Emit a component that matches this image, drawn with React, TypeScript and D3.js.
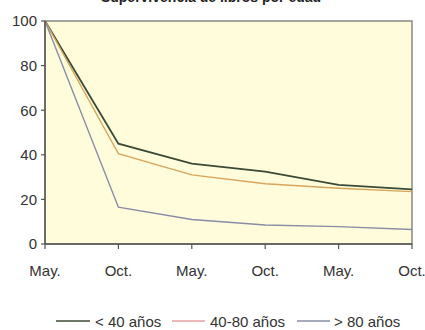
import React from "react";
import * as d3 from "d3";

const months = ["May.", "Oct.", "May.", "Oct.", "May.", "Oct."];
const under40 = [100, 45, 36, 32.5, 26.5, 24.5];
const from40to80 = [100, 40.5, 31, 27, 25, 23.5];
const over80 = [100, 16.5, 11, 8.5, 7.8, 6.5];
const yTicks = [0, 20, 40, 60, 80, 100];
const seriesNames = ["< 40 años", "40-80 años", "> 80 años"];
const lineColors = ["#3b4a36", "#d9a55a", "#8a8ca6"];
const legendColors = ["#3b4a36", "#e7a0a0", "#8a8ca6"];

const W = 425;
const H = 330;
const left = 45;
const right = 412;
const top = 21;
const bottom = 244;

export default function App() {
  const x = d3.scaleLinear().domain([0, months.length - 1]).range([left, right]);
  const y = d3.scaleLinear().domain([0, 100]).range([bottom, top]);
  const line = d3
    .line<number>()
    .x((_, i) => x(i))
    .y((d) => y(d));
  const series = [under40, from40to80, over80];
  const font = "'Liberation Sans', Arial, sans-serif";
  const legendItems = [
    { x1: 56, x2: 90, tx: 95 },
    { x1: 172, x2: 205, tx: 210 },
    { x1: 297, x2: 330, tx: 334 },
  ];

  return (
    <svg
      width={W}
      height={H}
      style={{ position: "absolute", left: 0, top: 0, background: "#fff" }}
      fontFamily={font}
    >
      <text x={211} y={2} textAnchor="middle" fontSize={14} fontWeight="bold" fill="#222">
        Supervivencia de libros por edad
      </text>
      <rect x={left} y={top} width={right - left} height={bottom - top} fill="#fffcdc" stroke="#6a6a6a" strokeWidth={1.2} />
      {series.map((s, i) => (
        <path key={i} d={line(s) ?? ""} fill="none" stroke={lineColors[i]} strokeWidth={i === 0 ? 1.8 : 1.4} />
      ))}
      {/* axes */}
      <line x1={left} x2={left} y1={top} y2={bottom} stroke="#555" strokeWidth={1.4} />
      <line x1={left} x2={right} y1={bottom} y2={bottom} stroke="#555" strokeWidth={1.4} />
      {yTicks.map((t) => (
        <g key={t}>
          <line x1={left - 4} x2={left} y1={y(t)} y2={y(t)} stroke="#555" strokeWidth={1.2} />
          <text x={left - 8} y={y(t)} dy="0.36em" textAnchor="end" fontSize={15} fill="#333">
            {t}
          </text>
        </g>
      ))}
      {months.map((m, i) => (
        <g key={i}>
          <line x1={x(i)} x2={x(i)} y1={bottom} y2={bottom + 5} stroke="#555" strokeWidth={1.2} />
          <text x={x(i)} y={276} textAnchor="middle" fontSize={15} fill="#333">
            {m}
          </text>
        </g>
      ))}
      {legendItems.map((l, i) => (
        <g key={i}>
          <line x1={l.x1} x2={l.x2} y1={321} y2={321} stroke={legendColors[i]} strokeWidth={1.3} />
          <text x={l.tx} y={326.5} fontSize={15} fill="#333">
            {seriesNames[i]}
          </text>
        </g>
      ))}
    </svg>
  );
}
